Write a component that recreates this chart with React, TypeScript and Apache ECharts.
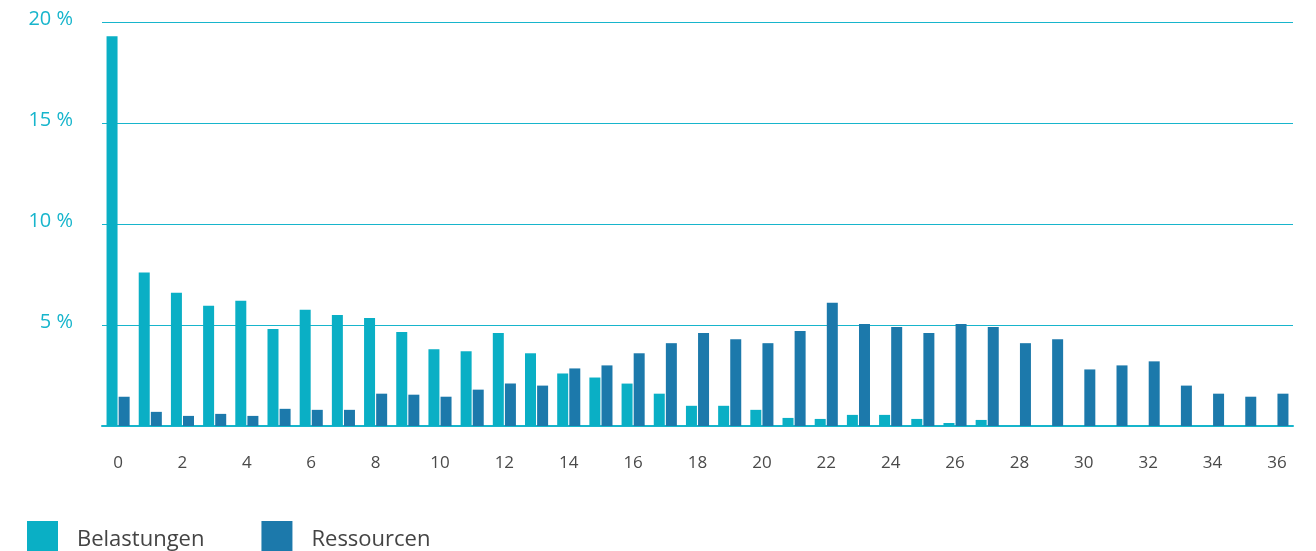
import React, { useEffect, useRef } from "react";
import * as echarts from "echarts";

const categories: string[] = Array.from({ length: 37 }, (_, i) => String(i));

const belastungen: number[] = [
  19.3, 7.6, 6.6, 5.95, 6.2, 4.8, 5.75, 5.5, 5.35, 4.65, 3.8,
  3.7, 4.6, 3.6, 2.6, 2.4, 2.1, 1.6, 1.0, 1.0, 0.8,
  0.4, 0.35, 0.55, 0.55, 0.35, 0.15, 0.3, 0, 0, 0,
  0, 0, 0, 0, 0, 0,
];

const ressourcen: number[] = [
  1.45, 0.7, 0.5, 0.6, 0.5, 0.85, 0.8, 0.8, 1.6, 1.55, 1.45,
  1.8, 2.1, 2.0, 2.85, 3.0, 3.6, 4.1, 4.6, 4.3, 4.1,
  4.7, 6.1, 5.05, 4.9, 4.6, 5.05, 4.9, 4.1, 4.3, 2.8,
  3.0, 3.2, 2.0, 1.6, 1.45, 1.6,
];

const seriesNames: string[] = ["Belastungen", "Ressourcen"];
const yTicks: number[] = [0, 5, 10, 15, 20];

const TEAL = "#0aafc5";
const BLUE = "#1c79ab";
const LINE = "#17b5cc";
const FONT = "'Open Sans', 'Noto Sans', sans-serif";

export default function App() {
  const ref = useRef<HTMLDivElement>(null);

  useEffect(() => {
    if (!ref.current) return;
    const chart = echarts.init(ref.current, undefined, { renderer: "svg" });
    chart.setOption({
      animation: false,
      textStyle: { fontFamily: FONT },
      grid: { left: 102, right: 23, top: 22, bottom: 125, containLabel: false },
      legend: {
        left: 27,
        top: 521,
        padding: 0,
        itemWidth: 31,
        itemHeight: 31,
        itemGap: 57,
        icon: "rect",
        data: seriesNames,
        textStyle: {
          color: "#444",
          fontSize: 22,
          fontFamily: FONT,
          padding: [0, 0, 0, 14],
        },
      },
      xAxis: {
        type: "category",
        data: categories,
        axisTick: { show: false },
        axisLine: { show: true, lineStyle: { color: LINE, width: 2 } },
        axisLabel: {
          interval: 1,
          color: "#4a4a4a",
          fontSize: 17,
          margin: 27,
          fontFamily: FONT,
        },
      },
      yAxis: {
        type: "value",
        min: yTicks[0],
        max: yTicks[yTicks.length - 1],
        interval: 5,
        axisLine: { show: false },
        axisTick: { show: false },
        splitLine: { show: true, lineStyle: { color: LINE, width: 1 } },
        axisLabel: {
          color: LINE,
          fontSize: 20,
          margin: 29,
          fontFamily: FONT,
          verticalAlign: "bottom",
          lineHeight: 9,
          formatter: (v: number) => (v === 0 ? "" : v + " %"),
        },
      },
      series: [
        {
          name: seriesNames[0],
          type: "bar",
          data: belastungen,
          barWidth: 11,
          barGap: "10%",
          itemStyle: { color: TEAL },
        },
        {
          name: seriesNames[1],
          type: "bar",
          data: ressourcen,
          barWidth: 11,
          barGap: "10%",
          itemStyle: { color: BLUE },
        },
      ],
    });
    return () => chart.dispose();
  }, []);

  return (
    <div
      ref={ref}
      style={{ position: "fixed", left: 0, top: 0, width: 1316, height: 551 }}
    />
  );
}
